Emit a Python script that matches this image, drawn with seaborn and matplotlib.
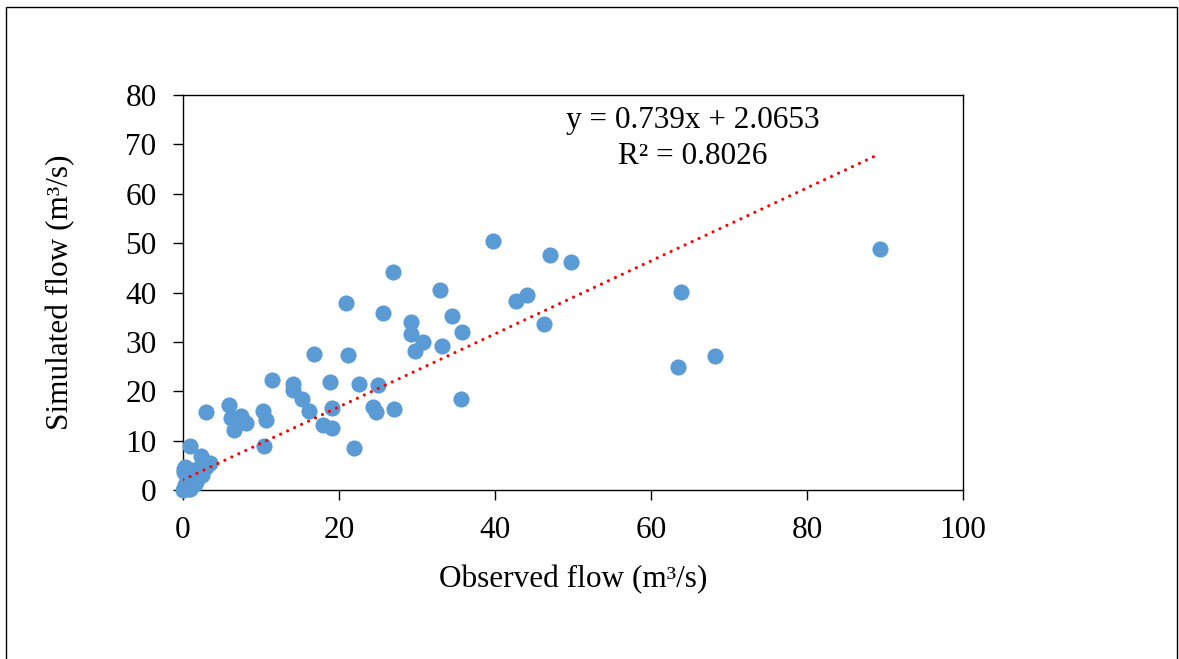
import matplotlib.pyplot as plt
import numpy as np
import pandas as pd
import seaborn as sns
from matplotlib.patches import Rectangle

# observed vs simulated flow (m3/s)
observed = [89.4, 63.9, 63.5, 68.2, 49.7, 47.0, 46.3, 44.1, 42.7, 39.8,
            35.8, 34.5, 35.6, 32.9, 33.2, 30.8, 29.7, 29.2, 29.2, 26.9,
            25.6, 27.0, 25.0, 24.3, 24.7, 22.6, 21.9, 20.9, 21.2, 18.8,
            19.1, 19.1, 17.9, 16.1, 16.8, 15.3, 14.1, 14.1, 11.4, 10.2,
            10.7, 10.4, 7.4, 8.1, 6.6, 6.1, 5.9, 3.0, 0.9, 2.3,
            3.5, 2.9, 2.0, 0.3, 0.1, 0.5, 1.8, 2.4, 0.3, 0.9,
            0.0, 0.5, 0.2, 0.8, 1.2, 0.4, 1.0, 1.5, 0.6, 0.1]
simulated = [48.8, 40.2, 25.0, 27.2, 46.1, 47.6, 33.6, 39.4, 38.3, 50.5,
             32.1, 35.3, 18.4, 40.6, 29.2, 30.0, 28.2, 34.0, 31.5, 44.1,
             35.8, 16.5, 21.2, 16.9, 15.7, 21.5, 8.5, 37.8, 27.4, 21.9,
             16.6, 12.5, 13.2, 16.1, 27.5, 18.5, 21.5, 20.3, 22.3, 16.1,
             14.1, 8.9, 15.0, 13.6, 12.2, 14.5, 17.2, 15.7, 9.0, 6.9,
             5.4, 4.7, 4.4, 4.7, 3.7, 2.4, 2.0, 3.0, 1.0, 0.3,
             0.0, 1.5, 0.6, 2.8, 2.5, 3.5, 4.0, 1.2, 0.2, 4.2]

slope = 0.739
intercept = 2.0653
r_squared = 0.8026

xticks = [0, 20, 40, 60, 80, 100]
yticks = [0, 10, 20, 30, 40, 50, 60, 70, 80]

df = pd.DataFrame({"Observed": observed, "Simulated": simulated})
x_fit = np.array([df["Observed"].min(), df["Observed"].max()])
fit = pd.DataFrame({"x": x_fit, "y": slope * x_fit + intercept})

sns.set_style("white")
plt.rcParams['font.family'] = ['Liberation Serif', 'DejaVu Serif']
plt.rcParams['text.color'] = 'black'
plt.rcParams['axes.labelcolor'] = 'black'
plt.rcParams['xtick.color'] = 'black'
plt.rcParams['ytick.color'] = 'black'

fs = 22.5

fig = plt.figure(figsize=(11.79, 6.59), dpi=100)
ax = fig.add_axes([183/1179, 1 - 490/659, 780/1179, 395/659])

sns.scatterplot(data=df, x="Observed", y="Simulated", ax=ax, s=135,
                color="#5B9BD5", linewidth=0, alpha=1, zorder=3, clip_on=False)
sns.lineplot(data=fit, x="x", y="y", ax=ax, color="#FF0000", lw=2.3,
             dashes=False, zorder=4)
ax.lines[0].set_linestyle((0, (0.01, 2.4)))
ax.lines[0].set_dash_capstyle("round")

ax.set_xlim(0, 100)
ax.set_ylim(0, 80)
ax.set_xticks(xticks)
ax.set_yticks(yticks)
ax.tick_params(axis="both", direction="out", length=7, width=1, color="black",
               labelsize=fs, pad=12, left=True, bottom=True, labelcolor="black")
for sp in ax.spines.values():
    sp.set_color("black")
    sp.set_linewidth(1.0)
    sp.set_visible(True)

ax.set_xlabel("Observed flow (m³/s)", fontsize=fs, labelpad=14, color="black")
ax.set_ylabel("Simulated flow (m³/s)", fontsize=fs, labelpad=36, color="black")

ax.text(0.654, 0.89, f"y = {slope}x + {intercept}\nR² = {r_squared}",
        transform=ax.transAxes, ha="center", va="center", fontsize=fs,
        multialignment="center", linespacing=1.3, color="black")

# outer chart border
fig.patches.append(Rectangle((6/1179, -0.1), 1171/1179, 1.1 - 7/659,
                             transform=fig.transFigure, fill=False,
                             edgecolor="black", linewidth=1.0))

fig.savefig("out.png", dpi=100)
